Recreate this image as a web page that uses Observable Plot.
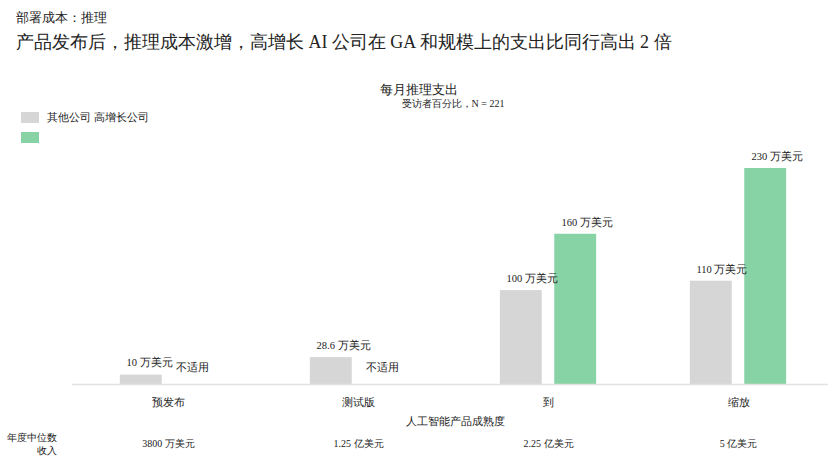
<!DOCTYPE html>
<html>
<head>
<meta charset="utf-8">
<script src="https://cdn.jsdelivr.net/npm/d3@7"></script>
<script src="https://cdn.jsdelivr.net/npm/@observablehq/plot@0.6"></script>
<style>
  html, body { margin: 0; padding: 0; background: #fff; overflow: hidden; }
  body { width: 828px; height: 468px; position: relative; font-family: serif; color: #222; }
  .abs { position: absolute; white-space: nowrap; }
  #chart { position: absolute; left: 0; top: 0; }
  .sw { position: absolute; width: 18px; height: 11px; }
</style>
</head>
<body>
<div id="chart"></div>
<div class="abs" style="left:16px; top:9px; font-size:13px;">部署成本：推理</div>
<div class="abs" style="left:16px; top:30px; font-size:17.9px;">产品发布后，推理成本激增，高增长 AI 公司在 GA 和规模上的支出比同行高出 2 倍</div>
<div class="abs" style="left:419px; top:81px; font-size:13px; transform:translateX(-50%);">每月推理支出</div>
<div class="abs" style="left:453px; top:97px; font-size:10px; transform:translateX(-50%);">受访者百分比，N = 221</div>
<div class="sw" style="left:21px; top:112px; background:#d6d6d6;"></div>
<div class="sw" style="left:21px; top:132px; background:#88d3a6;"></div>
<div class="abs" id="legendText" style="left:47px; top:110px; font-size:11px;"></div>
<script>
const stages = ["预发布", "测试版", "到", "缩放"];
const seriesNames = ["其他公司", "高增长公司"];
const otherSpend = [10, 28.6, 100, 110];
const highGrowthSpend = [null, null, 160, 230];
const otherLabels = ["10 万美元", "28.6 万美元", "100 万美元", "110 万美元"];
const highGrowthLabels = ["不适用", "不适用", "160 万美元", "230 万美元"];
const revenueLabels = ["3800 万美元", "1.25 亿美元", "2.25 亿美元", "5 亿美元"];
const axisTitle = "人工智能产品成熟度";
const rowTitle = "年度中位数\n收入";
const colors = ["#d6d6d6", "#88d3a6"];

document.getElementById("legendText").textContent = seriesNames.join(" ");

const other = stages.map((s, i) => ({stage: s, value: otherSpend[i], label: otherLabels[i]}));
const high = stages.map((s, i) => ({stage: s, value: highGrowthSpend[i], label: highGrowthLabels[i]}));
const highBars = high.filter(d => d.value != null);
const highNA = high.filter(d => d.value == null);
const revenue = stages.map((s, i) => ({stage: s, label: revenueLabels[i]}));

const half = 95.25;
const chart = Plot.plot({
  width: 828,
  height: 468,
  marginLeft: 72,
  marginRight: 0,
  marginTop: 168,
  marginBottom: 84,
  style: {fontFamily: "serif", fontSize: "11px", color: "#222", background: "transparent"},
  x: {domain: stages, range: [72, 834], padding: 0, label: null},
  y: {domain: [0, 230], axis: null},
  marks: [
    Plot.barY(other, {x: "stage", y: "value", fill: colors[0], insetLeft: half - 48.4, insetRight: half + 6}),
    Plot.barY(highBars, {x: "stage", y: "value", fill: colors[1], insetLeft: half + 6, insetRight: half - 48.4}),
    Plot.ruleY([0], {stroke: "#e2e2e2", strokeWidth: 1.5}),
    Plot.text(other, {x: "stage", y: "value", text: "label", textAnchor: "start", dx: -42, dy: -12, fontSize: 10.5, fill: "#222"}),
    Plot.text(highBars, {x: "stage", y: "value", text: "label", textAnchor: "start", dx: 13, dy: -12, fontSize: 10.5, fill: "#222"}),
    Plot.text(highNA, {x: "stage", y: () => 0, text: "label", textAnchor: "start", dx: 7, dy: -17, fontSize: 10.5, fill: "#222"}),
    Plot.axisX({tickSize: 0, tickPadding: 14, fontSize: 11, label: null}),
    Plot.text([axisTitle], {frameAnchor: "bottom", dx: 5, dy: 40, fontSize: 11, fill: "#222"}),
    Plot.text(revenue, {x: "stage", text: "label", frameAnchor: "bottom", dy: 62, fontSize: 10, fill: "#222"}),
    Plot.text([rowTitle], {frameAnchor: "bottom-left", dx: -16, dy: 69, textAnchor: "end", fontSize: 10, lineHeight: 1.3, fill: "#222"})
  ]
});
document.getElementById("chart").appendChild(chart);
</script>
</body>
</html>
